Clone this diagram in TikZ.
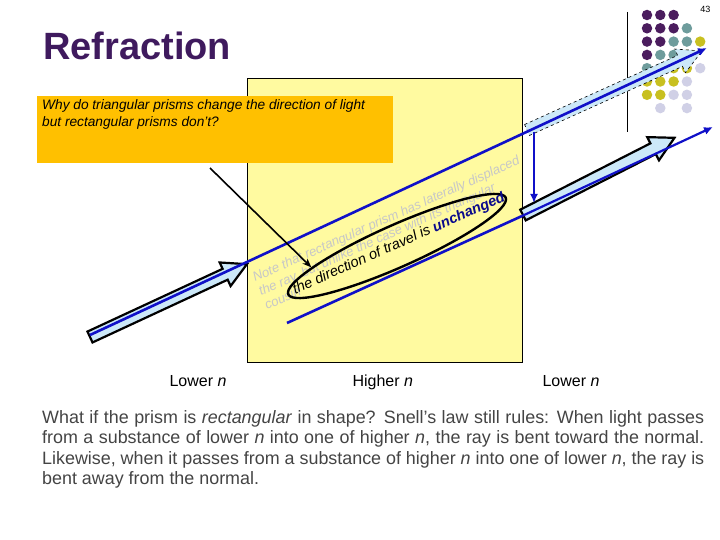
\documentclass[tikz,border=0pt]{standalone}
\usepackage{fontspec}
\setmainfont{Liberation Sans}
\usetikzlibrary{shapes.geometric,arrows.meta}
\definecolor{ttl}{HTML}{3F1A5E}
\definecolor{dP}{HTML}{4B1D5E}
\definecolor{dT}{HTML}{6E9C9C}
\definecolor{dY}{HTML}{C8C020}
\definecolor{dL}{HTML}{D0D0E6}
\definecolor{ray}{HTML}{1010C8}
\definecolor{pale}{HTML}{CCE8F8}
\definecolor{prism}{HTML}{FFFAA0}
\definecolor{orng}{HTML}{FFC000}
\definecolor{txt}{HTML}{444444}
\tikzset{
  dot/.style={circle,fill=#1,inner sep=0pt,minimum size=10.5pt},
  hollow/.style={fill=pale,draw=black,line width=2.2pt,line join=miter},
  rayline/.style={ray,line width=2.6pt},
  lbl/.style={font=\fontsize{16}{18}\selectfont,anchor=base west},
  notetxt/.style={font=\fontsize{13.1}{15}\selectfont\itshape,text=black!22,anchor=base west,rotate=24,inner sep=0pt},
}
\newcommand{\hollowarrow}[4]{% tail, angle, length, style
  \begin{scope}[shift={#1},rotate=#2]
    \draw[hollow,#4] (0,-6) -- ({#3-24},-6) -- ({#3-24},-13) -- (#3,0) -- ({#3-24},13) -- ({#3-24},6) -- (0,6) -- cycle;
  \end{scope}}
\begin{document}
\begin{tikzpicture}[x=1pt,y=-1pt]
\useasboundingbox (0,0) rectangle (720,540);
\fill[white] (0,0) rectangle (720,540);
% dots
\foreach \r/\c/\col in {0/0/dP,0/1/dP,0/2/dP,1/0/dP,1/1/dP,1/2/dP,1/3/dT,2/0/dP,2/1/dP,2/2/dT,2/3/dT,2/4/dY,3/0/dP,3/1/dT,3/2/dT,3/3/dY,4/0/dT,4/1/dT,4/2/dY,4/3/dY,4/4/dL,5/0/dY,5/1/dY,5/2/dY,5/3/dL,6/0/dY,6/1/dY,6/2/dL,6/3/dL,7/1/dL,7/3/dL}
  \node[dot=\col] (d\r\c) at ({647+13.3*\c},{15+13.3*\r}) {};
\draw[black,line width=0.8pt] (627,12) -- (627,132);
\node[font=\fontsize{9}{10}\selectfont,anchor=east] (pg) at (714,9) {43};
\node[font=\fontsize{38}{40}\selectfont\bfseries,text=ttl,anchor=base west,inner sep=0pt] (title) at (43,60) {Refraction};
% prism
\draw[fill=prism,line width=0.8pt] (247,78) rectangle (522,362);
\node[fill=orng,minimum width=356pt,minimum height=67pt,anchor=north west,inner sep=0pt] (q) at (37,96) {};
\node[font=\fontsize{13.7}{17}\selectfont\itshape,align=left,anchor=north west,inner sep=0pt] (qt) at (42,99) {Why do triangular prisms change the direction of light\\but rectangular prisms don't?};
% gray note
\node[notetxt] (n1) at (255,282) {Note that rectangular prism has laterally displaced};
\node[notetxt] (n2) at (261,296) {the ray, but unlike the case with its triangular};
\node[notetxt] (n3) at (267,310) {cousin};
% hollow arrows
\hollowarrow{(90,337)}{24.9}{173}{}
\hollowarrow{(527,130)}{24.3}{192}{line width=0.6pt,dashed}
\hollowarrow{(523,215)}{27}{170}{}
% rays
\coordinate (r1s) at (90,335);
\coordinate (r1e) at (707,48);
\draw[rayline,-{Latex[length=9pt,width=8pt]}] (r1s) -- (r1e);
\coordinate (r2s) at (287,323);
\coordinate (r2m) at (522,216);
\coordinate (r2e) at (713,127);
\draw[rayline] (r2s) -- (r2m);
\draw[ray,line width=2.2pt,-{Latex[length=9pt,width=8pt]}] (r2m) -- (r2e);
\coordinate (v1) at (534,132);
\coordinate (v2) at (534,203);
\draw[ray,line width=2.2pt,-{Latex[length=9pt,width=8pt]}] (v1) -- (v2);
% ellipse
\node[ellipse,draw=black,line width=2.4pt,rotate=24,minimum width=238pt,minimum height=42pt] (el) at (397,246) {};
\node[rotate=24,font=\fontsize{14.5}{16}\selectfont\itshape,inner sep=0pt] (elt) at (399,244) {the direction of travel is \textcolor{ray!70!black}{\bfseries unchanged}};
% pointer
\coordinate (p1) at (210,168);
\draw[line width=1.6pt,-{Stealth[length=9pt,width=7pt]}] (p1) -- (el.170);
% labels
\node[lbl] (l1) at (166,386) {Lower \textit{n}};
\node[lbl] (l2) at (349,386) {Higher \textit{n}};
\node[lbl] (l3) at (539,386) {Lower \textit{n}};
\node[font=\fontsize{17.9}{20.5}\selectfont,text=txt,text width=662pt,align=justify,anchor=north west,inner sep=0pt] (para) at (42,410) {What if the prism is \textit{rectangular} in shape? Snell's law still rules: When light passes from a substance of lower \textit{n} into one of higher \textit{n}, the ray is bent toward the normal. Likewise, when it passes from a substance of higher \textit{n} into one of lower \textit{n}, the ray is bent away from the normal.};
\end{tikzpicture}
\end{document}
